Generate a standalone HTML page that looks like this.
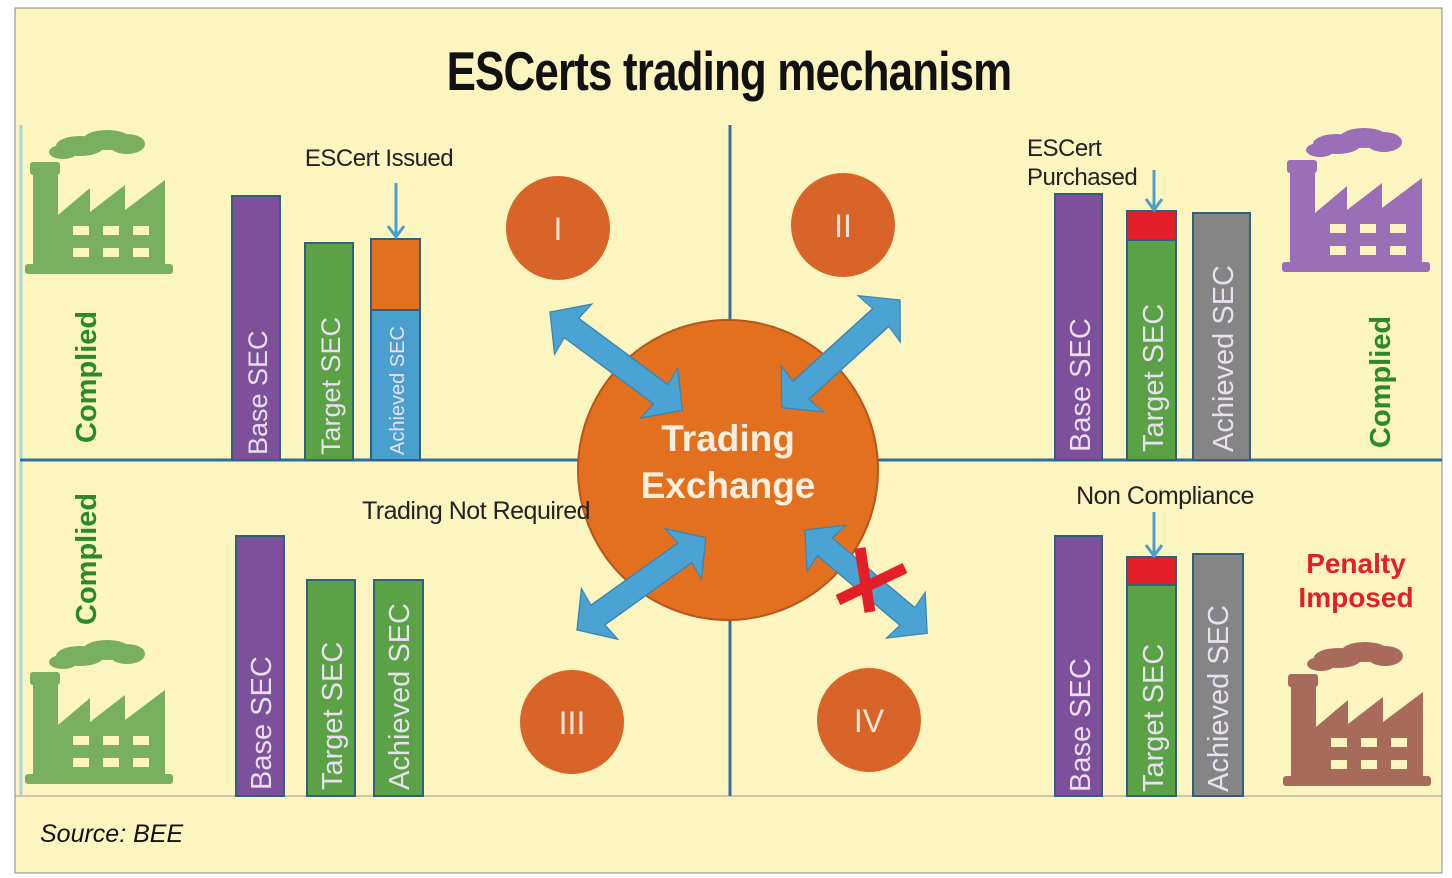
<!DOCTYPE html>
<html><head><meta charset="utf-8"><style>
html,body{margin:0;padding:0;background:#fff;}
svg{display:block;font-family:"Liberation Sans",sans-serif;}
</style></head><body>
<svg width="1452" height="878" viewBox="0 0 1452 878" xmlns="http://www.w3.org/2000/svg">
<defs>
<g id="fac">
  <ellipse cx="55" cy="16" rx="24" ry="10"/><ellipse cx="82" cy="10" rx="24" ry="10"/><ellipse cx="102" cy="14" rx="18" ry="10"/><ellipse cx="38" cy="22" rx="14" ry="7"/>
  <rect x="5" y="32" width="30" height="13" rx="3"/>
  <polygon points="8,45 33,45 33,85 65,58 65,82 100,55 100,80 140,50 140,137 8,137"/>
  <rect x="0" y="134" width="148" height="10" rx="3"/>
</g>
<g id="win" fill="#fdf5c0">
  <rect x="48" y="96" width="16" height="9"/><rect x="78" y="96" width="16" height="9"/><rect x="108" y="96" width="16" height="9"/>
  <rect x="48" y="118" width="16" height="9"/><rect x="78" y="118" width="16" height="9"/><rect x="108" y="118" width="16" height="9"/>
</g>
<g id="arr">
  <polygon points="0,0 28,-26 26,-10 134,-10 132,-26 160,0 132,26 134,10 26,10 28,26" fill="#4ba3d3" stroke="#3a86b3" stroke-width="1.2"/>
</g>
</defs>
<rect x="0" y="0" width="1452" height="878" fill="#fff"/>
<rect x="15" y="8" width="1427" height="865" fill="#fdf5c0" stroke="#888" stroke-width="1"/>
<line x1="15" y1="796" x2="1442" y2="796" stroke="#999" stroke-width="1"/>
<text x="0" y="0" text-anchor="middle" font-size="52" font-weight="bold" fill="#111" transform="translate(729,90) scale(0.845,1.05)" style="letter-spacing:-1px">ESCerts trading mechanism</text>
<text x="40" y="842" font-size="25" font-style="italic" fill="#111">Source: BEE</text>

<line x1="21" y1="125" x2="21" y2="796" stroke="#a9d4e6" stroke-width="3"/>
<line x1="730" y1="125" x2="730" y2="796" stroke="#2f6fa0" stroke-width="3"/>
<line x1="20" y1="460" x2="1442" y2="460" stroke="#2f6fa0" stroke-width="3"/>

<g transform="translate(25,130)" fill="#79b060"><use href="#fac"/><use href="#win"/></g>
<g transform="translate(1282,128)" fill="#9a6fb8"><use href="#fac"/><use href="#win"/></g>
<g transform="translate(25,640)" fill="#79b060"><use href="#fac"/><use href="#win"/></g>
<g transform="translate(1283,642)" fill="#a86a5a"><use href="#fac"/><use href="#win"/></g>

<g stroke="#2f6080" stroke-width="2">
<rect x="232" y="196" width="48" height="264" fill="#7e4f9a"/>
<rect x="305" y="243" width="48" height="217" fill="#5aa245"/>
<rect x="371" y="239" width="49" height="71" fill="#e2701f"/>
<rect x="371" y="310" width="49" height="150" fill="#4aa0cc"/>
</g>
<line x1="396" y1="183" x2="396" y2="236" stroke="#4aa0cc" stroke-width="3"/>
<polyline points="388,226 396,237 404,226" fill="none" stroke="#4aa0cc" stroke-width="3"/>
<text x="379" y="166" text-anchor="middle" font-size="24" fill="#222" style="letter-spacing:-0.5px">ESCert Issued</text>
<g font-size="27" fill="#e8dff0">
<text transform="translate(267,455) rotate(-90)">Base SEC</text>
<text transform="translate(340,455) rotate(-90)">Target SEC</text>
<text transform="translate(404,455) rotate(-90)" font-size="20">Achieved SEC</text>
</g>
<text transform="translate(96,443) rotate(-90)" font-size="29" font-weight="bold" fill="#2a8a2a">Complied</text>

<g stroke="#2f6080" stroke-width="2">
<rect x="1055" y="194" width="47" height="266" fill="#7e4f9a"/>
<rect x="1127" y="211" width="49" height="29" fill="#e3202a"/>
<rect x="1127" y="240" width="49" height="220" fill="#5aa245"/>
<rect x="1193" y="213" width="57" height="247" fill="#858585"/>
</g>
<line x1="1154" y1="170" x2="1154" y2="209" stroke="#4aa0cc" stroke-width="3"/>
<polyline points="1146,199 1154,210 1162,199" fill="none" stroke="#4aa0cc" stroke-width="3"/>
<text x="1027" y="156" font-size="24" fill="#222" style="letter-spacing:-0.5px">ESCert</text>
<text x="1027" y="185" font-size="24" fill="#222" style="letter-spacing:-0.5px">Purchased</text>
<g font-size="29" fill="#e8dff0">
<text transform="translate(1090,452) rotate(-90)">Base SEC</text>
<text transform="translate(1163,452) rotate(-90)">Target SEC</text>
<text transform="translate(1233,452) rotate(-90)">Achieved SEC</text>
</g>
<text transform="translate(1390,448) rotate(-90)" font-size="29" font-weight="bold" fill="#2a8a2a">Complied</text>

<g stroke="#2f6080" stroke-width="2">
<rect x="236" y="536" width="48" height="260" fill="#7e4f9a"/>
<rect x="307" y="580" width="48" height="216" fill="#5aa245"/>
<rect x="374" y="580" width="49" height="216" fill="#5aa245"/>
</g>
<g font-size="29" fill="#e8dff0">
<text transform="translate(271,790) rotate(-90)">Base SEC</text>
<text transform="translate(342,790) rotate(-90)">Target SEC</text>
<text transform="translate(409,790) rotate(-90)">Achieved SEC</text>
</g>
<text transform="translate(96,625) rotate(-90)" font-size="29" font-weight="bold" fill="#2a8a2a">Complied</text>

<g stroke="#2f6080" stroke-width="2">
<rect x="1055" y="536" width="47" height="260" fill="#7e4f9a"/>
<rect x="1127" y="557" width="49" height="28" fill="#e3202a"/>
<rect x="1127" y="585" width="49" height="211" fill="#5aa245"/>
<rect x="1193" y="554" width="50" height="242" fill="#858585"/>
</g>
<line x1="1154" y1="512" x2="1154" y2="555" stroke="#4aa0cc" stroke-width="3"/>
<polyline points="1146,545 1154,556 1162,545" fill="none" stroke="#4aa0cc" stroke-width="3"/>
<text x="1165" y="504" text-anchor="middle" font-size="25" fill="#222" style="letter-spacing:-0.5px">Non Compliance</text>
<g font-size="29" fill="#e8dff0">
<text transform="translate(1090,792) rotate(-90)">Base SEC</text>
<text transform="translate(1163,792) rotate(-90)">Target SEC</text>
<text transform="translate(1228,792) rotate(-90)">Achieved SEC</text>
</g>
<text x="1356" y="573" text-anchor="middle" font-size="28" font-weight="bold" fill="#e3202a">Penalty</text>
<text x="1356" y="607" text-anchor="middle" font-size="28" font-weight="bold" fill="#e3202a">Imposed</text>

<g fill="#d9642a">
<circle cx="558" cy="228" r="52"/><circle cx="843" cy="225" r="52"/>
<circle cx="572" cy="722" r="52"/><circle cx="869" cy="720" r="52"/>
</g>
<g font-size="32" fill="#f3e6d8" text-anchor="middle">
<text x="558" y="240">I</text><text x="843" y="237">II</text>
<text x="572" y="734">III</text><text x="869" y="732">IV</text>
</g>

<circle cx="728" cy="470" r="150" fill="#e2701f" stroke="#b7561a" stroke-width="2"/>
<text x="728" y="451" text-anchor="middle" font-size="37" font-weight="bold" fill="#fbeedd">Trading</text>
<text x="728" y="498" text-anchor="middle" font-size="37" font-weight="bold" fill="#fbeedd">Exchange</text>
<text x="476" y="519" text-anchor="middle" font-size="25" fill="#222" style="letter-spacing:-0.5px">Trading Not Required</text>

<g transform="translate(550,312) rotate(36.6) scale(1.03,1.2)"><use href="#arr"/></g>
<g transform="translate(900,300) rotate(137.7) scale(1.0,1.2)"><use href="#arr"/></g>
<g transform="translate(577,630) rotate(-35.6) scale(0.99,1.2)"><use href="#arr"/></g>
<g transform="translate(805,530) rotate(40.2) scale(1.0,1.15)"><use href="#arr"/></g>
<g stroke="#e3202a" stroke-width="11">
<line x1="838" y1="600" x2="905" y2="568"/><line x1="860" y1="548" x2="870" y2="612"/>
</g>
</svg>
</body></html>
